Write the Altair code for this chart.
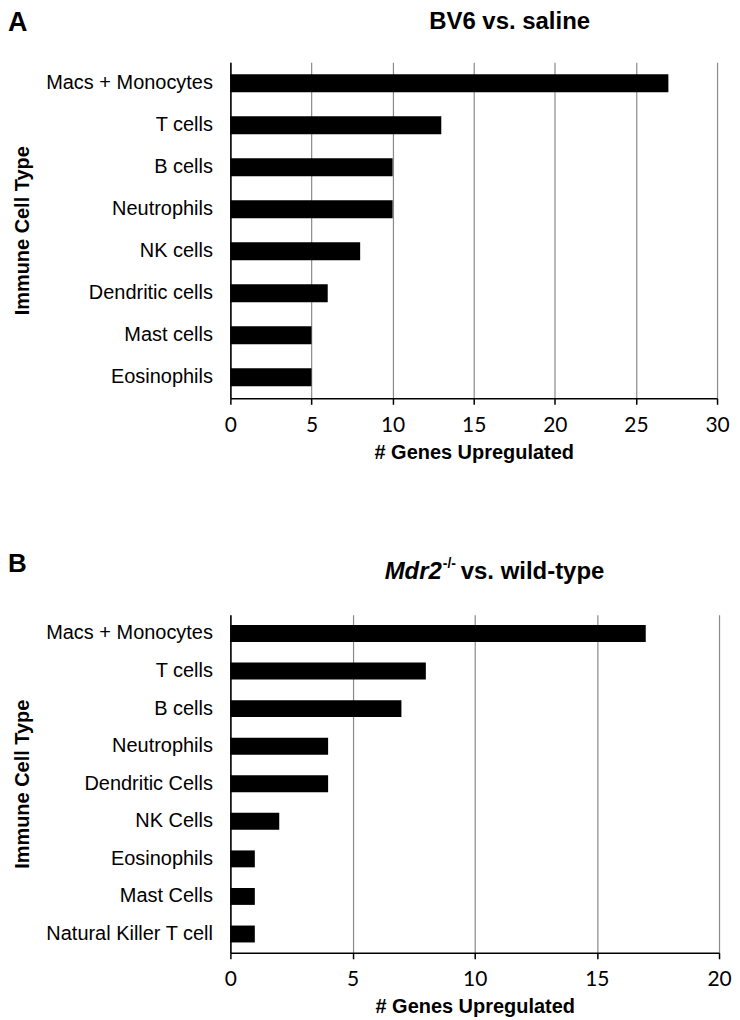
import altair as alt
import pandas as pd

cells_a = ["Macs + Monocytes", "T cells", "B cells", "Neutrophils", "NK cells",
           "Dendritic cells", "Mast cells", "Eosinophils"]
genes_a = [27, 13, 10, 10, 8, 6, 5, 5]
ticks_a = [0, 5, 10, 15, 20, 25, 30]

cells_b = ["Macs + Monocytes", "T cells", "B cells", "Neutrophils", "Dendritic Cells",
           "NK Cells", "Eosinophils", "Mast Cells", "Natural Killer T cell"]
genes_b = [17, 8, 7, 4, 4, 2, 1, 1, 1]
ticks_b = [0, 5, 10, 15, 20]

title_a = ["BV6 vs. saline"]
title_b_gene = ["Mdr2"]
title_b_sup = ["-/-"]
title_b_rest = ["vs. wild-type"]
x_title = "# Genes Upregulated"
y_title = "Immune Cell Type"

LABEL_FONT = "Liberation Sans"
TICK_FONT = "Lato"


def txt(s, x, y, size, italic=False, align="left", baseline="alphabetic"):
    return alt.Chart(pd.DataFrame({"t": s})).mark_text(
        font=LABEL_FONT, fontSize=size, fontWeight="bold",
        fontStyle="italic" if italic else "normal",
        align=align, baseline=baseline, color="black"
    ).encode(text="t:N", x=alt.value(x), y=alt.value(y))


def panel(cells, genes, xmax, ticks, w, h, pad):
    df = pd.DataFrame({"cell": cells, "genes": genes})
    return alt.Chart(df).mark_bar(color="black").encode(
        y=alt.Y("cell:N", sort=cells,
                scale=alt.Scale(paddingInner=pad, paddingOuter=pad / 2),
                axis=alt.Axis(title=y_title, ticks=False, grid=False,
                              domainColor="black", domainWidth=1.5,
                              labelFont=LABEL_FONT, labelFontSize=20, labelColor="black",
                              labelPadding=18, labelLimit=400,
                              minExtent=189, maxExtent=189,
                              titleFont=LABEL_FONT, titleFontSize=20, titleFontWeight="bold",
                              titleColor="black", titlePadding=9)),
        x=alt.X("genes:Q", scale=alt.Scale(domain=[0, xmax], nice=False, zero=True),
                axis=alt.Axis(title=x_title, values=ticks, format="d",
                              grid=True, gridColor="#8a8a8a", gridWidth=1.2,
                              domainColor="black", domainWidth=1.5,
                              tickColor="black", tickWidth=1.5, tickSize=6,
                              labelFont=TICK_FONT, labelFontSize=21, labelColor="black",
                              labelPadding=10, labelFlush=False,
                              titleFont=LABEL_FONT, titleFontSize=20, titleFontWeight="bold",
                              titleColor="black", titlePadding=7)),
    ).properties(width=w, height=h)


pa = alt.layer(
    panel(cells_a, genes_a, 30, ticks_a, 488, 337, 0.57),
    txt(["A"], -223, -52, 27, baseline="top"),
    txt(title_a, 280, -52, 24, align="center", baseline="top"),
)

pb = alt.layer(
    panel(cells_b, genes_b, 20, ticks_b, 490, 339, 0.55),
    txt(["B"], -223, -43, 26),
    txt(title_b_gene, 212, -36, 24, italic=True, align="right"),
    txt(title_b_sup, 213, -47, 14),
    txt(title_b_rest, 231, -36, 24),
)

chart = alt.vconcat(pa, pb, spacing=89).properties(
    padding={"left": 0, "top": 0, "right": 0, "bottom": 0}
).configure_view(stroke=None)

chart.save("out.html", embed_options={"renderer": "svg", "actions": False})
